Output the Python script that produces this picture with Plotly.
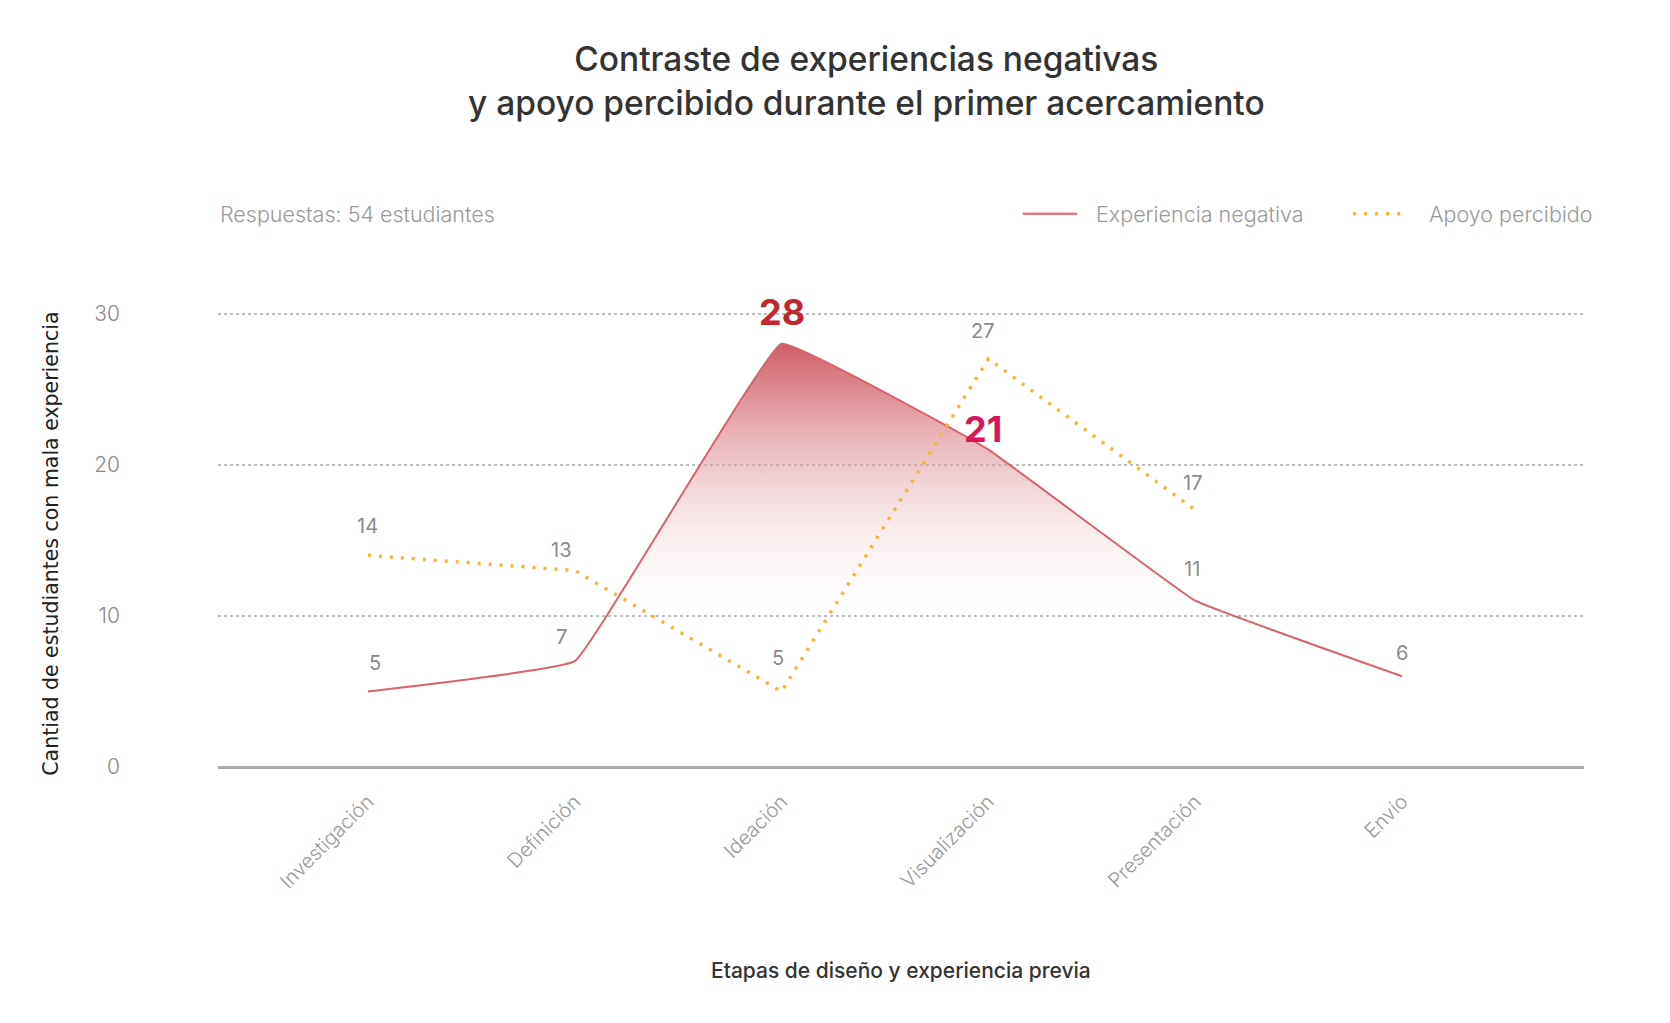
import plotly.graph_objects as go

# etapas y valores
etapas = ["Investigación", "Definición", "Ideación", "Visualización", "Presentación", "Envío"]
experiencia_negativa = [5, 7, 28, 21, 11, 6]
apoyo_percibido = [14, 13, 5, 27, 17, None]
y_ticks = [0, 10, 20, 30]

# desplazamiento (px) de cada etiqueta respecto a su punto
shift_negativa = [(7, 28), (-13, 24), (0, 32), (-5, 21), (-3, 32), (0, 23)]
shift_apoyo = [(0, 29), (-13, 20), (-4, 33), (-5, 28), (-3, 27), (0, 0)]

rojo = "#d9636c"
amarillo = "#f3b731"
gris = "#8a8a8a"
fuente = "Inter, 'Noto Sans', sans-serif"

fig = go.Figure()

# area con degradado bajo la experiencia negativa
fig.add_trace(go.Scatter(
    x=etapas, y=experiencia_negativa, name="Experiencia negativa",
    mode="lines", line=dict(color=rojo, width=2, shape="spline", smoothing=0.2),
    fill="tozeroy",
    fillgradient=dict(type="vertical", start=9, stop=28,
                      colorscale=[[0, "rgba(255,255,255,0)"], [1, "rgba(204,82,92,0.95)"]]),
    cliponaxis=False,
))

fig.add_trace(go.Scatter(
    x=etapas, y=apoyo_percibido, name="Apoyo percibido",
    mode="lines", line=dict(color=amarillo, width=3.5, dash="3px,8px"),
    connectgaps=False, cliponaxis=False,
))

# etiquetas de valores
for etapa, v, (dx, dy) in zip(etapas, experiencia_negativa, shift_negativa):
    if v == 28:
        fuente_v = dict(size=36, color="#c1272d", family=fuente)
        texto = "<b>28</b>"
    elif v == 21:
        fuente_v = dict(size=36, color="#d8155a", family=fuente)
        texto = "<b>21</b>"
    else:
        fuente_v = dict(size=20, color=gris, family=fuente)
        texto = str(v)
    fig.add_annotation(x=etapa, y=v, text=texto, showarrow=False, xshift=dx, yshift=dy, font=fuente_v)

for etapa, v, (dx, dy) in zip(etapas, apoyo_percibido, shift_apoyo):
    if v is None:
        continue
    fig.add_annotation(x=etapa, y=v, text=str(v), showarrow=False, xshift=dx, yshift=dy,
                       font=dict(size=20, color=gris, family=fuente))

# titulo (dos lineas)
fig.add_annotation(xref="paper", yref="paper", x=0.475, y=1.507, xanchor="center", yanchor="middle",
                   text="Contraste de experiencias negativas<br>y apoyo percibido durante el primer acercamiento",
                   showarrow=False, font=dict(size=33.5, color="#333333", family=fuente, weight=500))

fig.add_annotation(xref="paper", yref="paper", x=0, y=1.216, xanchor="left", yanchor="middle",
                   text="Respuestas: 54 estudiantes", showarrow=False,
                   font=dict(size=21.5, color="#9a9a9a", family=fuente, weight=300))

# leyenda dibujada a mano
fig.add_shape(type="line", xref="paper", yref="paper", x0=0.589, x1=0.629, y0=1.216, y1=1.216,
              line=dict(color="#e07b82", width=2.5))
fig.add_annotation(xref="paper", yref="paper", x=0.641, y=1.216, xanchor="left", yanchor="middle",
                   text="Experiencia negativa", showarrow=False,
                   font=dict(size=21.5, color="#9a9a9a", family=fuente, weight=300))
fig.add_shape(type="line", xref="paper", yref="paper", x0=0.831, x1=0.868, y0=1.216, y1=1.216,
              line=dict(color=amarillo, width=3.5, dash="3px,8px"))
fig.add_annotation(xref="paper", yref="paper", x=0.885, y=1.216, xanchor="left", yanchor="middle",
                   text="Apoyo percibido", showarrow=False,
                   font=dict(size=21.5, color="#9a9a9a", family=fuente, weight=300))

fig.add_annotation(xref="paper", yref="paper", x=0.5, y=-0.448, xanchor="center", yanchor="middle",
                   text="Etapas de diseño y experiencia previa", showarrow=False,
                   font=dict(size=21, color="#333333", family=fuente, weight=500))
fig.add_annotation(xref="paper", yref="paper", x=-0.1225, y=0.49, xanchor="center", yanchor="middle",
                   text="Cantiad de estudiantes con mala experiencia", textangle=-90, showarrow=False,
                   font=dict(size=20.5, color="#222222", family="'DejaVu Sans', sans-serif"))

fig.update_layout(
    width=1670, height=1023,
    paper_bgcolor="white", plot_bgcolor="white",
    margin=dict(l=210, r=94, t=304, b=264),
    font=dict(family=fuente, color=gris),
    showlegend=False,
    xaxis=dict(type="category", range=[-0.725, 5.88], showgrid=False, showline=False,
               zeroline=False, ticks="", tickangle=-45, ticklabelstandoff=18,
               tickfont=dict(size=20, color="#999999", family=fuente, weight=300)),
    yaxis=dict(range=[0, 30.1], tickvals=y_ticks, showgrid=True, gridcolor="#bdbdbd",
               griddash="dot", gridwidth=1.5, zeroline=True, zerolinecolor="#aaaaaa",
               zerolinewidth=2.5, showline=False, ticks="", ticklabelstandoff=97,
               tickfont=dict(size=21, color=gris, family=fuente, weight=300)),
)

fig.write_html("out.html")
